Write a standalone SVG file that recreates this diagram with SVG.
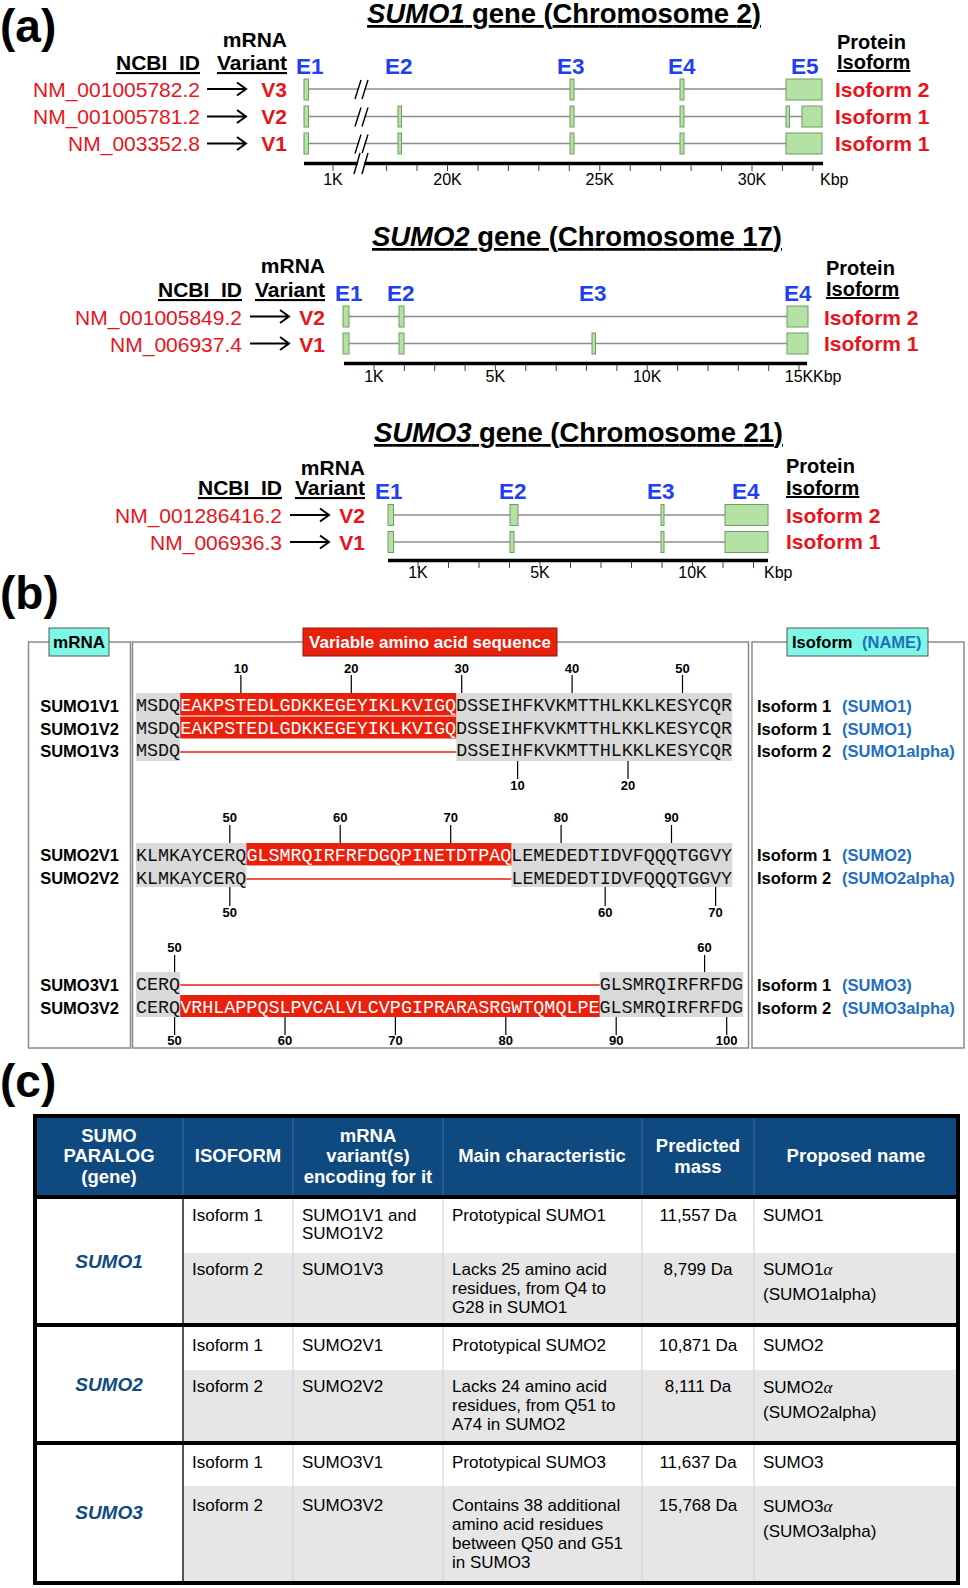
<svg xmlns="http://www.w3.org/2000/svg" width="968" height="1588" viewBox="0 0 968 1588">
<style>
text{font-family:"Liberation Sans",Arial,sans-serif}
.pl{font-size:46px;font-weight:bold;fill:#000}
.ttl{font-size:27.5px;font-weight:bold;fill:#000;text-decoration:underline}
.hd{font-size:21px;font-weight:bold;fill:#000}
.ph{font-size:20px;font-weight:bold;fill:#000}
.ul{text-decoration:underline}
.id{font-size:21px;fill:#e8141c;text-anchor:end}
.vr{font-size:21px;font-weight:bold;fill:#e8141c;text-anchor:end}
.ex{font-size:22.5px;font-weight:bold;fill:#1f3ff5}
.iso{font-size:21px;font-weight:bold;fill:#e8141c}
.sc{font-size:16px;fill:#000;text-anchor:middle}
.scl{font-size:16px;fill:#000}
.trk{stroke:#8c8c8c;stroke-width:1.5}
.exn{fill:#b4e2a4;stroke:#6f9c63;stroke-width:1}
.axis{stroke:#000;stroke-width:3.5}
.tick{stroke:#444;stroke-width:1}
.arr{fill:none;stroke:#000;stroke-width:2}
.pnl{fill:none;stroke:#8a8a8a;stroke-width:1.5}
.tab{fill:#7ff7e6;stroke:#555;stroke-width:1}
.lab{font-size:16.5px;font-weight:bold;fill:#000}
.nm{fill:#1f6fbf}
.seq{font-family:"Liberation Mono","Courier New",monospace;font-size:18.4px;fill:#111}
.w{fill:#fff}
.num{font-size:13px;font-weight:bold;fill:#000;text-anchor:middle}
.gr{fill:#d9d9d9}
.rd{fill:#e8200c}
.rl{stroke:#e8200c;stroke-width:1.5}
.pt{stroke:#000;stroke-width:1.2}
.th{font-size:18.5px;font-weight:bold;fill:#fff;text-anchor:middle}
.td{font-size:17px;fill:#000}
.tc{font-size:17px;fill:#000;text-anchor:middle}
.gn{font-size:19px;font-weight:bold;font-style:italic;fill:#0e4a7f;text-anchor:middle}
.vl{stroke:#d0d0d0;stroke-width:1}
.hl{stroke:#3d6f9c;stroke-width:1}
</style>

<!-- ================= (a) ================= -->
<g id="label-a"><text class="pl" x="0" y="42">(a)</text></g>

<!-- SUMO1 gene -->
<g id="sumo1-gene">
  <text class="ttl" x="367" y="23" textLength="394"><tspan font-style="italic">SUMO1</tspan> gene (Chromosome 2)</text>
  <text class="hd" x="287" y="47" text-anchor="end">mRNA</text>
  <text class="hd ul" x="287" y="70" text-anchor="end">Variant</text>
  <text class="hd ul" x="200" y="70" text-anchor="end">NCBI_ID</text>
  <text class="ph" x="837" y="48.5">Protein</text>
  <text class="ph ul" x="837" y="69">Isoform</text>
  <text class="ex" x="296" y="74">E1</text>
  <text class="ex" x="385" y="74">E2</text>
  <text class="ex" x="557" y="74">E3</text>
  <text class="ex" x="668" y="74">E4</text>
  <text class="ex" x="791" y="74">E5</text>
  <text class="id" x="200" y="97">NM_001005782.2</text>
  <text class="id" x="200" y="124">NM_001005781.2</text>
  <text class="id" x="200" y="151">NM_003352.8</text>
  <text class="vr" x="287" y="97">V3</text>
  <text class="vr" x="287" y="124">V2</text>
  <text class="vr" x="287" y="151">V1</text>
  <text class="iso" x="835" y="97">Isoform 2</text>
  <text class="iso" x="835" y="124">Isoform 1</text>
  <text class="iso" x="835" y="151">Isoform 1</text>
  <!-- tracks -->
  <line class="trk" x1="308" y1="89" x2="786" y2="89"/>
  <line class="trk" x1="308" y1="116.5" x2="802" y2="116.5"/>
  <line class="trk" x1="308" y1="143.5" x2="786" y2="143.5"/>
  <!-- breaks -->
  <polygon points="356,99 362,80 367,80 361,99" fill="#fff"/>
  <polygon points="356,126.5 362,107.5 367,107.5 361,126.5" fill="#fff"/>
  <polygon points="356,153.5 362,134.5 367,134.5 361,153.5" fill="#fff"/>
  <path d="M355,99 L361,80 M362,99 L368,80 M355,126.5 L361,107.5 M362,126.5 L368,107.5 M355,153.5 L361,134.5 M362,153.5 L368,134.5" stroke="#000" stroke-width="1.4" fill="none"/>
  <!-- exons row1 -->
  <rect class="exn" x="304" y="79" width="4.5" height="21"/>
  <rect class="exn" x="570" y="79" width="4" height="21"/>
  <rect class="exn" x="680" y="79" width="4" height="21"/>
  <rect class="exn" x="786" y="79" width="36" height="21"/>
  <!-- row2 -->
  <rect class="exn" x="304" y="106" width="4.5" height="21"/>
  <rect class="exn" x="398" y="106" width="3.5" height="21"/>
  <rect class="exn" x="570" y="106" width="4" height="21"/>
  <rect class="exn" x="680" y="106" width="4" height="21"/>
  <rect class="exn" x="786" y="106" width="3.5" height="21"/>
  <rect class="exn" x="802" y="106" width="20" height="21"/>
  <!-- row3 -->
  <rect class="exn" x="304" y="133" width="4.5" height="21"/>
  <rect class="exn" x="398" y="133" width="3.5" height="21"/>
  <rect class="exn" x="570" y="133" width="4" height="21"/>
  <rect class="exn" x="680" y="133" width="4" height="21"/>
  <rect class="exn" x="786" y="133" width="36" height="21"/>
  <!-- axis -->
  <line class="axis" x1="304" y1="163.5" x2="823" y2="163.5"/>
  <polygon points="355,174 361,153 367,153 361,174" fill="#fff"/>
  <path d="M354,174 L360,153 M362,174 L368,153" stroke="#000" stroke-width="1.4" fill="none"/>
  <path class="tick" d="M333,165V171 M386.6,165V171 M417,165V171 M447.5,165V171 M478,165V171 M508.4,165V171 M538.8,165V171 M569.3,165V171 M599.8,165V171 M630.2,165V171 M660.6,165V171 M691.1,165V171 M721.5,165V171 M752,165V171 M782.4,165V171 M812.9,165V171"/>
  <text class="sc" x="333" y="185">1K</text>
  <text class="sc" x="447.5" y="185">20K</text>
  <text class="sc" x="599.8" y="185">25K</text>
  <text class="sc" x="752" y="185">30K</text>
  <text class="scl" x="820" y="185">Kbp</text>
</g>

<!-- SUMO2 gene -->
<g id="sumo2-gene">
  <text class="ttl" x="372" y="246" textLength="410"><tspan font-style="italic">SUMO2</tspan> gene (Chromosome 17)</text>
  <text class="hd" x="325" y="273" text-anchor="end">mRNA</text>
  <text class="hd ul" x="325" y="297" text-anchor="end">Variant</text>
  <text class="hd ul" x="242" y="297" text-anchor="end">NCBI_ID</text>
  <text class="ph" x="826" y="275">Protein</text>
  <text class="ph ul" x="826" y="296">Isoform</text>
  <text class="ex" x="335" y="301">E1</text>
  <text class="ex" x="387" y="301">E2</text>
  <text class="ex" x="579" y="301">E3</text>
  <text class="ex" x="784" y="301">E4</text>
  <text class="id" x="242" y="325">NM_001005849.2</text>
  <text class="id" x="242" y="352">NM_006937.4</text>
  <text class="vr" x="325" y="325">V2</text>
  <text class="vr" x="325" y="352">V1</text>
  <text class="iso" x="824" y="325">Isoform 2</text>
  <text class="iso" x="824" y="351">Isoform 1</text>
  <line class="trk" x1="349" y1="316.5" x2="787" y2="316.5"/>
  <line class="trk" x1="349" y1="343.5" x2="787" y2="343.5"/>
  <rect class="exn" x="343" y="306" width="6" height="21"/>
  <rect class="exn" x="399" y="306" width="5" height="21"/>
  <rect class="exn" x="787" y="306" width="21" height="21"/>
  <rect class="exn" x="343" y="333" width="6" height="21"/>
  <rect class="exn" x="399" y="333" width="5" height="21"/>
  <rect class="exn" x="592" y="333" width="3.5" height="21"/>
  <rect class="exn" x="787" y="333" width="21" height="21"/>
  <line class="axis" x1="344" y1="363.5" x2="807" y2="363.5"/>
  <path class="tick" d="M374,365V371 M404.4,365V371 M434.7,365V371 M465.1,365V371 M495.4,365V371 M525.8,365V371 M556.2,365V371 M586.5,365V371 M616.9,365V371 M647.2,365V371 M677.6,365V371 M708,365V371 M738.3,365V371 M768.7,365V371 M799,365V371"/>
  <text class="sc" x="374" y="382">1K</text>
  <text class="sc" x="495.4" y="382">5K</text>
  <text class="sc" x="647.2" y="382">10K</text>
  <text class="sc" x="799" y="382">15K</text>
  <text class="scl" x="813" y="382">Kbp</text>
</g>

<!-- SUMO3 gene -->
<g id="sumo3-gene">
  <text class="ttl" x="374" y="442" textLength="409"><tspan font-style="italic">SUMO3</tspan> gene (Chromosome 21)</text>
  <text class="hd" x="365" y="475" text-anchor="end">mRNA</text>
  <text class="hd ul" x="365" y="495" text-anchor="end">Variant</text>
  <text class="hd ul" x="282" y="495" text-anchor="end">NCBI_ID</text>
  <text class="ph" x="786" y="473">Protein</text>
  <text class="ph ul" x="786" y="495">Isoform</text>
  <text class="ex" x="375" y="499">E1</text>
  <text class="ex" x="499" y="499">E2</text>
  <text class="ex" x="647" y="499">E3</text>
  <text class="ex" x="732" y="499">E4</text>
  <text class="id" x="282" y="523">NM_001286416.2</text>
  <text class="id" x="282" y="550">NM_006936.3</text>
  <text class="vr" x="365" y="523">V2</text>
  <text class="vr" x="365" y="550">V1</text>
  <text class="iso" x="786" y="523">Isoform 2</text>
  <text class="iso" x="786" y="549">Isoform 1</text>
  <line class="trk" x1="393" y1="515" x2="725" y2="515"/>
  <line class="trk" x1="393" y1="542" x2="725" y2="542"/>
  <rect class="exn" x="388" y="504.5" width="5.5" height="21"/>
  <rect class="exn" x="510" y="504.5" width="8" height="21"/>
  <rect class="exn" x="661" y="504.5" width="3" height="21"/>
  <rect class="exn" x="725" y="504.5" width="43" height="21"/>
  <rect class="exn" x="388" y="531.5" width="5.5" height="21"/>
  <rect class="exn" x="510" y="531.5" width="4" height="21"/>
  <rect class="exn" x="661" y="531.5" width="3" height="21"/>
  <rect class="exn" x="725" y="531.5" width="43" height="21"/>
  <line class="axis" x1="388" y1="560.5" x2="768" y2="560.5"/>
  <path class="tick" d="M418,562V568 M448.5,562V568 M479,562V568 M509.5,562V568 M540,562V568 M570.5,562V568 M601,562V568 M631.5,562V568 M662,562V568 M692.5,562V568 M723,562V568 M753.5,562V568"/>
  <text class="sc" x="418" y="578">1K</text>
  <text class="sc" x="540" y="578">5K</text>
  <text class="sc" x="692.5" y="578">10K</text>
  <text class="scl" x="764" y="578">Kbp</text>
</g>

<g id="connectors">
  <path class="arr" d="M207,89H246 M237,82.5L246,89L237,95.5"/>
  <path class="arr" d="M207,116.5H246 M237,110L246,116.5L237,123"/>
  <path class="arr" d="M207,143.5H246 M237,137L246,143.5L237,150"/>
  <path class="arr" d="M250,316.5H289 M280,310L289,316.5L280,323"/>
  <path class="arr" d="M250,343.5H289 M280,337L289,343.5L280,350"/>
  <path class="arr" d="M290,515H329 M320,508.5L329,515L320,521.5"/>
  <path class="arr" d="M290,542H329 M320,535.5L329,542L320,548.5"/>
</g>

<!-- ================= (b) ================= -->
<g id="label-b"><text class="pl" x="0" y="609">(b)</text></g>

<g id="panel-mrna">
  <rect class="pnl" x="28.5" y="642" width="102" height="406"/>
  <rect class="tab" x="49" y="628" width="60" height="28"/>
  <text x="79" y="648" text-anchor="middle" font-size="17" font-weight="bold" fill="#000">mRNA</text>
  <text class="lab" x="119" y="712" text-anchor="end">SUMO1V1</text>
  <text class="lab" x="119" y="735" text-anchor="end">SUMO1V2</text>
  <text class="lab" x="119" y="757" text-anchor="end">SUMO1V3</text>
  <text class="lab" x="119" y="861" text-anchor="end">SUMO2V1</text>
  <text class="lab" x="119" y="884" text-anchor="end">SUMO2V2</text>
  <text class="lab" x="119" y="991" text-anchor="end">SUMO3V1</text>
  <text class="lab" x="119" y="1014" text-anchor="end">SUMO3V2</text>
</g>

<g id="panel-sequence">
  <rect class="pnl" x="132.5" y="642" width="616" height="406"/>
  <rect x="303" y="628" width="254" height="28" fill="#e8200c" stroke="#8a1a0a" stroke-width="1"/>
  <text x="430" y="648" text-anchor="middle" font-size="17" font-weight="bold" fill="#fff">Variable amino acid sequence</text>

  <!-- SUMO1 block -->
  <rect class="gr" x="136" y="693" width="44.2" height="68"/>
  <rect class="gr" x="456.2" y="693" width="276" height="68"/>
  <rect class="rd" x="180.2" y="693" width="276" height="22.5"/>
  <rect class="rd" x="180.2" y="716.5" width="276" height="22"/>
  <line class="rl" x1="180.2" y1="752" x2="456.2" y2="752"/>
  <path class="pt" d="M240.9,675V693 M351.3,675V693 M461.7,675V693 M572.1,675V693 M682.5,675V693 M517.6,761V779 M628,761V779"/>
  <text class="num" x="240.9" y="673">10</text>
  <text class="num" x="351.3" y="673">20</text>
  <text class="num" x="461.7" y="673">30</text>
  <text class="num" x="572.1" y="673">40</text>
  <text class="num" x="682.5" y="673">50</text>
  <text class="num" x="517.6" y="790">10</text>
  <text class="num" x="628" y="790">20</text>
  <text class="seq" x="136" y="711">MSDQ<tspan class="w">EAKPSTEDLGDKKEGEYIKLKVIGQ</tspan>DSSEIHFKVKMTTHLKKLKESYCQR</text>
  <text class="seq" x="136" y="734">MSDQ<tspan class="w">EAKPSTEDLGDKKEGEYIKLKVIGQ</tspan>DSSEIHFKVKMTTHLKKLKESYCQR</text>
  <text class="seq" x="136" y="756">MSDQ</text>
  <text class="seq" x="456.2" y="756">DSSEIHFKVKMTTHLKKLKESYCQR</text>

  <!-- SUMO2 block -->
  <rect class="gr" x="136" y="843" width="110.4" height="44"/>
  <rect class="gr" x="511.4" y="843" width="220.8" height="44"/>
  <rect class="rd" x="246.4" y="843" width="265" height="22.5"/>
  <line class="rl" x1="246.4" y1="879" x2="511.4" y2="879"/>
  <path class="pt" d="M229.8,825V843 M340.2,825V843 M450.7,825V843 M561.1,825V843 M671.5,825V843 M229.8,887V906 M605.2,887V906 M715.6,887V906"/>
  <text class="num" x="229.8" y="822">50</text>
  <text class="num" x="340.2" y="822">60</text>
  <text class="num" x="450.7" y="822">70</text>
  <text class="num" x="561.1" y="822">80</text>
  <text class="num" x="671.5" y="822">90</text>
  <text class="num" x="229.8" y="917">50</text>
  <text class="num" x="605.2" y="917">60</text>
  <text class="num" x="715.6" y="917">70</text>
  <text class="seq" x="136" y="861">KLMKAYCERQ<tspan class="w">GLSMRQIRFRFDGQPINETDTPAQ</tspan>LEMEDEDTIDVFQQQTGGVY</text>
  <text class="seq" x="136" y="884">KLMKAYCERQ</text>
  <text class="seq" x="511.4" y="884">LEMEDEDTIDVFQQQTGGVY</text>

  <!-- SUMO3 block -->
  <rect class="gr" x="136" y="972" width="44.2" height="45"/>
  <rect class="gr" x="599.7" y="972" width="143.5" height="45"/>
  <rect class="rd" x="180.2" y="995" width="419.5" height="22"/>
  <line class="rl" x1="180.2" y1="985" x2="599.7" y2="985"/>
  <path class="pt" d="M174.6,955V972 M704.6,955V972 M174.6,1017V1035 M285,1017V1035 M395.4,1017V1035 M505.8,1017V1035 M616.2,1017V1035 M726.7,1017V1035"/>
  <text class="num" x="174.6" y="952">50</text>
  <text class="num" x="704.6" y="952">60</text>
  <text class="num" x="174.6" y="1045">50</text>
  <text class="num" x="285" y="1045">60</text>
  <text class="num" x="395.4" y="1045">70</text>
  <text class="num" x="505.8" y="1045">80</text>
  <text class="num" x="616.2" y="1045">90</text>
  <text class="num" x="726.7" y="1045">100</text>
  <text class="seq" x="136" y="990">CERQ</text>
  <text class="seq" x="599.7" y="990">GLSMRQIRFRFDG</text>
  <text class="seq" x="136" y="1013">CERQ<tspan class="w">VRHLAPPQSLPVCALVLCVPGIPRARASRGWTQMQLPE</tspan>GLSMRQIRFRFDG</text>
</g>

<g id="panel-isoform">
  <rect class="pnl" x="752" y="642" width="212" height="406"/>
  <rect class="tab" x="787" y="628" width="141" height="28"/>
  <text x="792" y="648" font-size="16.5" font-weight="bold" fill="#000">Isoform<tspan class="nm" x="862">(NAME)</tspan></text>
  <text class="lab" x="757" y="712">Isoform 1<tspan class="nm" x="842">(SUMO1)</tspan></text>
  <text class="lab" x="757" y="735">Isoform 1<tspan class="nm" x="842">(SUMO1)</tspan></text>
  <text class="lab" x="757" y="757">Isoform 2<tspan class="nm" x="842">(SUMO1alpha)</tspan></text>
  <text class="lab" x="757" y="861">Isoform 1<tspan class="nm" x="842">(SUMO2)</tspan></text>
  <text class="lab" x="757" y="884">Isoform 2<tspan class="nm" x="842">(SUMO2alpha)</tspan></text>
  <text class="lab" x="757" y="991">Isoform 1<tspan class="nm" x="842">(SUMO3)</tspan></text>
  <text class="lab" x="757" y="1014">Isoform 2<tspan class="nm" x="842">(SUMO3alpha)</tspan></text>
</g>

<!-- ================= (c) ================= -->
<g id="label-c"><text class="pl" x="0" y="1097">(c)</text></g>

<g id="table">
  <rect x="35" y="1116" width="923" height="81" fill="#0e4a7f"/>
  <rect x="35" y="1197" width="923" height="386" fill="#fff"/>
  <rect x="183" y="1253" width="775" height="72" fill="#e6e6e6"/>
  <rect x="183" y="1370" width="775" height="73" fill="#e6e6e6"/>
  <rect x="183" y="1486" width="775" height="97" fill="#e6e6e6"/>
  <path class="hl" d="M183,1116V1197 M293,1116V1197 M443,1116V1197 M642,1116V1197 M754,1116V1197"/>
  <path class="vl" d="M293,1197V1583 M443,1197V1583 M642,1197V1583 M754,1197V1583"/>
  <line x1="183" y1="1197" x2="183" y2="1583" stroke="#555" stroke-width="2"/>
  <path d="M35,1197H958 M35,1325H958 M35,1443H958" stroke="#000" stroke-width="4"/>
  <rect x="35" y="1116" width="923" height="467" fill="none" stroke="#000" stroke-width="4"/>

  <!-- header -->
  <text class="th" x="109" y="1142">SUMO</text>
  <text class="th" x="109" y="1162">PARALOG</text>
  <text class="th" x="109" y="1183">(gene)</text>
  <text class="th" x="238" y="1162">ISOFORM</text>
  <text class="th" x="368" y="1142">mRNA</text>
  <text class="th" x="368" y="1162">variant(s)</text>
  <text class="th" x="368" y="1183">encoding for it</text>
  <text class="th" x="542" y="1162">Main characteristic</text>
  <text class="th" x="698" y="1152">Predicted</text>
  <text class="th" x="698" y="1173">mass</text>
  <text class="th" x="856" y="1162">Proposed name</text>

  <!-- SUMO1 -->
  <text class="gn" x="109" y="1268">SUMO1</text>
  <text class="td" x="192" y="1221">Isoform 1</text>
  <text class="td" x="302" y="1221">SUMO1V1 and</text>
  <text class="td" x="302" y="1239">SUMO1V2</text>
  <text class="td" x="452" y="1221">Prototypical SUMO1</text>
  <text class="tc" x="698" y="1221">11,557 Da</text>
  <text class="td" x="763" y="1221">SUMO1</text>
  <text class="td" x="192" y="1275">Isoform 2</text>
  <text class="td" x="302" y="1275">SUMO1V3</text>
  <text class="td" x="452" y="1275">Lacks 25 amino acid</text>
  <text class="td" x="452" y="1294">residues, from Q4 to</text>
  <text class="td" x="452" y="1313">G28 in SUMO1</text>
  <text class="tc" x="698" y="1275">8,799 Da</text>
  <text class="td" x="763" y="1275">SUMO1<tspan font-family="Liberation Serif" font-style="italic">α</tspan></text>
  <text class="td" x="763" y="1300">(SUMO1alpha)</text>

  <!-- SUMO2 -->
  <text class="gn" x="109" y="1391">SUMO2</text>
  <text class="td" x="192" y="1351">Isoform 1</text>
  <text class="td" x="302" y="1351">SUMO2V1</text>
  <text class="td" x="452" y="1351">Prototypical SUMO2</text>
  <text class="tc" x="698" y="1351">10,871 Da</text>
  <text class="td" x="763" y="1351">SUMO2</text>
  <text class="td" x="192" y="1392">Isoform 2</text>
  <text class="td" x="302" y="1392">SUMO2V2</text>
  <text class="td" x="452" y="1392">Lacks 24 amino acid</text>
  <text class="td" x="452" y="1411">residues, from Q51 to</text>
  <text class="td" x="452" y="1430">A74 in SUMO2</text>
  <text class="tc" x="698" y="1392">8,111 Da</text>
  <text class="td" x="763" y="1393">SUMO2<tspan font-family="Liberation Serif" font-style="italic">α</tspan></text>
  <text class="td" x="763" y="1418">(SUMO2alpha)</text>

  <!-- SUMO3 -->
  <text class="gn" x="109" y="1519">SUMO3</text>
  <text class="td" x="192" y="1468">Isoform 1</text>
  <text class="td" x="302" y="1468">SUMO3V1</text>
  <text class="td" x="452" y="1468">Prototypical SUMO3</text>
  <text class="tc" x="698" y="1468">11,637 Da</text>
  <text class="td" x="763" y="1468">SUMO3</text>
  <text class="td" x="192" y="1511">Isoform 2</text>
  <text class="td" x="302" y="1511">SUMO3V2</text>
  <text class="td" x="452" y="1511">Contains 38 additional</text>
  <text class="td" x="452" y="1530">amino acid residues</text>
  <text class="td" x="452" y="1549">between Q50 and G51</text>
  <text class="td" x="452" y="1568">in SUMO3</text>
  <text class="tc" x="698" y="1511">15,768 Da</text>
  <text class="td" x="763" y="1512">SUMO3<tspan font-family="Liberation Serif" font-style="italic">α</tspan></text>
  <text class="td" x="763" y="1537">(SUMO3alpha)</text>
</g>
</svg>
